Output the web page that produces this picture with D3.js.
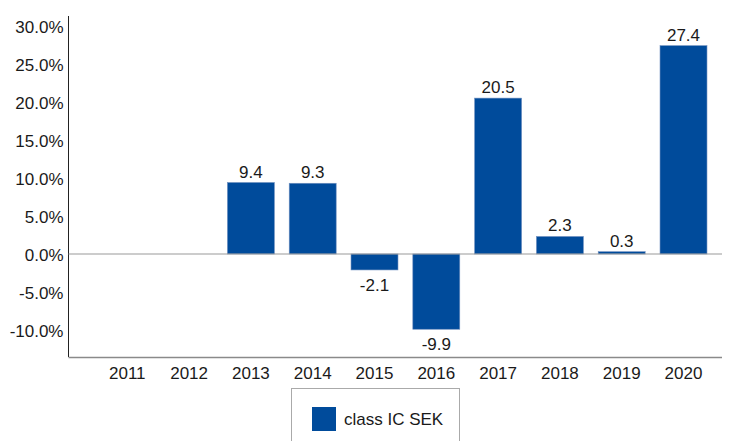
<!DOCTYPE html>
<html><head><meta charset="utf-8">
<script src="https://cdn.jsdelivr.net/npm/d3@7"></script>
<style>body{margin:0;background:#fff}text{font-family:"Liberation Sans",Arial,sans-serif}</style>
</head><body>
<svg id="c" width="731" height="441"></svg>
<script>
const years = ["2011","2012","2013","2014","2015","2016","2017","2018","2019","2020"];
const values = [null,null,9.4,9.3,-2.1,-9.9,20.5,2.3,0.3,27.4];
const yTicks = [-10,-5,0,5,10,15,20,25,30];
const seriesName = "class IC SEK";

const fmt = d3.formatLocale({decimal: ".", thousands: ",", grouping: [3], currency: ["", ""], minus: "-"}).format(".1f");
const svg = d3.select("#c");
const color = "#004b9b";
const FS = 17;
const x = d3.scaleBand().domain(years).range([96.4, 714.4]).paddingInner(0.24).paddingOuter(0.12);
const y = d3.scaleLinear().domain([-13.55, 31.3]).range([357, 16]);
const xL = 68.5, xR = 722;

// y axis
const ya = svg.append("g").attr("transform", `translate(${xL},0)`)
  .call(d3.axisLeft(y).tickValues(yTicks).tickSize(0).tickPadding(5).tickFormat(d => fmt(d) + "%"));
ya.select(".domain").remove();
ya.selectAll("text").attr("font-size", FS).attr("fill", "#1a1a1a").attr("dy", "0.36em");
svg.append("line").attr("x1", xL).attr("x2", xL).attr("y1", 16).attr("y2", 357).attr("stroke", "#222").attr("stroke-width", 1);

// bottom axis
const xa = svg.append("g").attr("transform", `translate(0,357)`)
  .call(d3.axisBottom(x).tickSize(0).tickPadding(10));
xa.select(".domain").remove();
xa.selectAll("text").attr("font-size", FS).attr("fill", "#1a1a1a");
svg.append("line").attr("x1", xL).attr("x2", xR).attr("y1", 357.5).attr("y2", 357.5).attr("stroke", "#8a8a8a").attr("stroke-width", 1.5);

const data = years.map((yr, i) => ({yr, v: values[i]})).filter(d => d.v !== null);

svg.append("g").selectAll("rect").data(data).join("rect")
  .attr("x", d => x(d.yr)).attr("width", x.bandwidth())
  .attr("y", d => Math.min(y(d.v), y(0))).attr("height", d => Math.abs(y(d.v) - y(0)))
  .attr("fill", color).attr("stroke", "#6f8fbf").attr("stroke-width", 0.6);

// zero line
svg.append("line").attr("x1", xL).attr("x2", xR).attr("y1", y(0)).attr("y2", y(0)).attr("stroke", "#9a9a9a").attr("stroke-width", 1.2);

svg.append("g").selectAll("text").data(data).join("text")
  .attr("x", d => x(d.yr) + x.bandwidth() / 2)
  .attr("y", d => d.v >= 0 ? y(d.v) - 5 : y(d.v) + 21)
  .attr("text-anchor", "middle").attr("font-size", FS).attr("fill", "#1a1a1a")
  .text(d => fmt(d.v));

// legend
const lg = svg.append("g");
lg.append("rect").attr("x", 291.5).attr("y", 388.5).attr("width", 168).attr("height", 70).attr("fill", "#fff").attr("stroke", "#aaa");
lg.append("rect").attr("x", 312).attr("y", 407).attr("width", 24).attr("height", 24).attr("fill", color);
lg.append("text").attr("x", 344).attr("y", 425).attr("font-size", FS).attr("fill", "#1a1a1a").text(seriesName);
</script>
</body></html>
